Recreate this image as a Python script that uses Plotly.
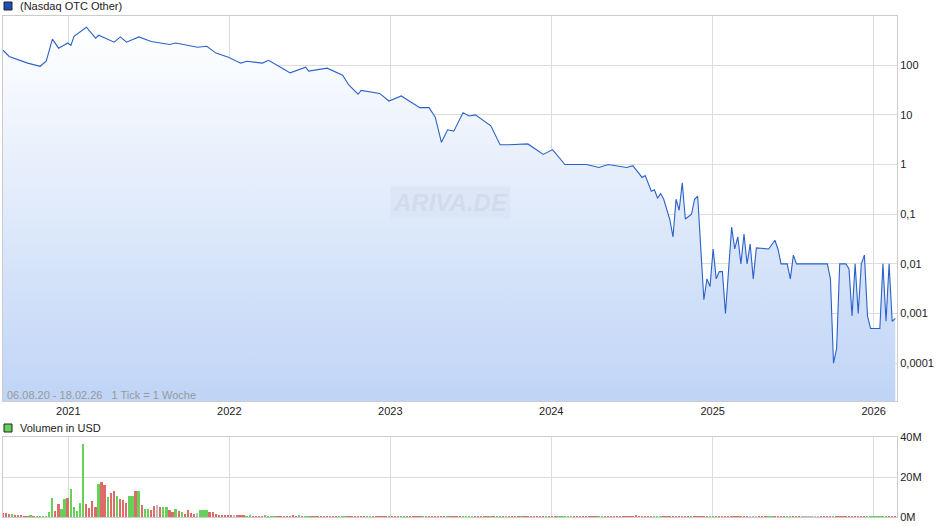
import pandas as pd
import plotly.graph_objects as go
from plotly.subplots import make_subplots

# price, weekly ticks counted from 06.08.2020
start = pd.Timestamp('2020-08-06')
price_week = [0, 2, 8, 12, 14, 16, 18, 21, 22, 23, 27, 30, 31, 36, 38, 40, 44, 48, 54, 56,
              63, 66, 69, 73, 77, 79, 84, 86, 91, 93, 98, 99, 105, 110, 112, 115, 116, 122, 125, 129,
              135, 138, 140, 142, 144, 146, 149, 151, 153, 158, 161, 164, 170, 175, 178, 182, 189, 193, 196, 202,
              204, 207, 208, 210, 211, 212, 213, 214, 216, 217, 218, 219, 220, 221, 223, 224, 225, 227, 228, 229,
              230, 231, 232, 233, 234, 236, 237, 238, 239, 240, 241, 242, 243, 244, 248, 250, 251, 252, 254, 255,
              256, 257, 267, 268, 269, 270, 271, 273, 274, 275, 276, 277, 278, 279, 280, 281, 284, 285, 286, 287,
              288, 289]
price = [200, 150, 110, 95, 120, 335, 220, 280, 250, 380, 580, 350, 400, 290, 370, 290, 370, 300, 260, 280,
         230, 240, 175, 145, 110, 120, 110, 125, 83, 70, 91, 76, 87, 63, 40, 26, 31, 27, 19, 24,
         14, 14, 9, 2.8, 5, 4.7, 11, 9.5, 10, 6, 2.5, 2.5, 2.6, 1.6, 2.0, 1.0, 1.0, 0.87, 1.0, 0.87,
         0.95, 0.55, 0.6, 0.29, 0.31, 0.21, 0.26, 0.2, 0.077, 0.035, 0.2, 0.12, 0.43, 0.08, 0.1, 0.2, 0.23, 0.0019, 0.005, 0.0035,
         0.02, 0.005, 0.007, 0.007, 0.001, 0.055, 0.02, 0.035, 0.01, 0.04, 0.01, 0.025, 0.005, 0.021, 0.02, 0.03, 0.02, 0.01, 0.01, 0.005,
         0.015, 0.01, 0.01, 0.005, 0.0001, 0.0002, 0.01, 0.01, 0.008, 0.0009, 0.01, 0.001, 0.01, 0.015, 0.0009, 0.0005, 0.0005, 0.01, 0.0007, 0.01,
         0.0007, 0.0008]

# volume in million USD, one bar per week from week 0
volume = [2.2, 2.2, 1.7, 1.3, 0.8, 0.8, 0.8, 0.5, 0.3, 0.8,
          0.3, 0.3, 0.3, 0.3, 0.3, 2.3, 9.7, 2.8, 6.3, 3.8,
          8.8, 9.3, 13.8, 4.8, 2.8, 6.8, 36.3, 6.3, 4.3, 7.8,
          4.8, 16.3, 17.3, 15.8, 9.8, 11.8, 12.8, 10.3, 8.8, 8.3,
          6.8, 10.3, 10.3, 12.8, 12.8, 5.8, 3.8, 3.8, 3.3, 5.3,
          5.8, 4.8, 4.8, 4.8, 3.3, 2.3, 3.8, 2.8, 2.3, 1.3,
          3.3, 1.8, 1.3, 1.8, 3.3, 3.3, 3.3, 2.3, 2.3, 1.3,
          0.8, 0.8, 0.8, 0.8, 0.8, 0.8, 0.8, 0.8, 0.8, 0.3,
          0.8, 0.3, 0.2, 0.2, 0.2, 0.8, 0.2, 0.2, 0.2, 0.2,
          0.2, 0.2, 0.2, 0.2, 0.8, 0.2, 0.8, 0.2, 0.2, 0.2,
          0.2, 0.2, 0.2, 0.2, 0.2, 0.2, 0.2, 0.2, 0.2, 0.2,
          0.2, 0.2, 0.2, 0.2, 0.2, 0.2, 0.2, 0.2, 0.2, 0.2,
          0.2, 0.2, 0.2, 0.2, 0.2, 0.2, 0.2, 0.2, 0.2, 0.2,
          0.2, 0.2, 0.2, 0.2, 0.2, 0.2, 0.2, 0.2, 0.2, 0.2,
          0.2, 0.2, 0.2, 0.2, 0.2, 0.2, 0.2, 0.2, 0.2, 0.2,
          0.2, 0.2, 0.2, 0.2, 0.2, 0.2, 0.2, 0.2, 0.2, 0.2,
          0.2, 0.2, 0.2, 0.2, 0.2, 0.2, 0.2, 0.2, 0.2, 0.2,
          0.2, 0.2, 0.2, 0.2, 0.2, 0.2, 0.2, 0.2, 0.2, 0.2,
          0.2, 0.2, 0.2, 0.2, 0.2, 0.2, 0.2, 0.2, 0.2, 0.2,
          0.2, 0.2, 0.2, 0.2, 0.2, 0.2, 0.2, 0.2, 0.2, 0.2,
          0.2, 0.2, 0.2, 0.2, 0.2, 0.8, 0.2, 0.2, 0.2, 0.2,
          0.2, 0.2, 0.2, 0.2, 0.2, 0.2, 0.2, 0.2, 0.2, 0.2,
          0.2, 0.2, 0.2, 0.2, 0.2, 0.2, 0.2, 0.2, 0.2, 0.2,
          0.2, 0.2, 0.2, 0.2, 0.2, 0.2, 0.2, 0.2, 0.2, 0.2,
          0.2, 0.2, 0.2, 0.2, 0.2, 0.2, 0.2, 0.2, 0.2, 0.2,
          0.2, 0.2, 0.2, 0.2, 0.2, 0.2, 0.2, 0.2, 0.2, 0.2,
          0.2, 0.2, 0.2, 0.2, 0.2, 0.2, 0.2, 0.2, 0.2, 0.2,
          0.2, 0.2, 0.2, 0.2, 0.2, 0.2, 0.2, 0.2, 0.2, 0.2,
          0.2, 0.2, 0.2, 0.2, 0.2, 0.2, 0.2, 0.2, 0.2, 0.2]
# g = up week, r = down week, n = unchanged
vol_dir = ("rrrgrrrrrg" "rggggggrrg" "grgggggrrr" "rgrrgrrgrr" "rggrgrggrr"
           "nrggrrgrgr" "rrrngggrrr" "rrrrrnrrrg" "grrrrggggr" "rrrrrrgrgg"
           "rrrrrrrrrg" "ggrrrrrrgg" "rrrrrgrrrg" "grrrrrgrrr" "rrrrgrrrrg"
           "gggrrrrrgr" "ggrgrrrrgr" "rrrrrrgrrr" "gggggrrrrr" "rrrggrrrrr"
           "rrrrrrrrrr" "rgggrrrrrr" "rrrgrrrrrg" "ggrrrrrrrr" "rrnnnrrrgg"
           "rrrrggrrrn" "nnnnnrrrrg" "rrrrrrrrrr" "gggggggrrr")

y_ticks = [0.0001, 0.001, 0.01, 0.1, 1, 10, 100]
y_labels = ['0,0001', '0,001', '0,01', '0,1', '1', '10', '100']
vol_ticks = [0, 20, 40]
vol_labels = ['0M', '20M', '40M']
years = ['2021-01-01', '2022-01-01', '2023-01-01', '2024-01-01', '2025-01-01', '2026-01-01']
year_labels = ['2021', '2022', '2023', '2024', '2025', '2026']

price_dates = [start + pd.Timedelta(weeks=w) for w in price_week]
vol_dates = [start + pd.Timedelta(weeks=w) for w in range(len(volume))]
colmap = {'g': '#66d158', 'r': '#de6a6a', 'n': '#bbbbbb'}
vol_colors = [colmap[c] for c in vol_dir[:len(volume)]]

fig = make_subplots(rows=2, cols=1, shared_xaxes=False)

# baseline for the gradient fill
fig.add_trace(go.Scatter(x=[price_dates[0], price_dates[-1]], y=[1e-5, 1e-5], mode='lines',
                         line=dict(width=0), hoverinfo='skip', showlegend=False), row=1, col=1)
fig.add_trace(go.Scatter(x=price_dates, y=price, mode='lines', line=dict(color='#2a62c8', width=1.1),
                         fill='tonexty',
                         fillgradient=dict(type='vertical', colorscale=[[0, '#bdd3f6'], [1, '#ffffff']]),
                         showlegend=False), row=1, col=1)
fig.add_trace(go.Bar(x=vol_dates, y=volume, marker=dict(color=vol_colors, line=dict(width=0)),
                     width=4.2 * 24 * 3600 * 1000, showlegend=False), row=2, col=1)

xr = ['2020-08-06', '2026-02-23']
ax = dict(range=xr, showgrid=True, gridcolor='#dddddd', tickvals=years, ticktext=year_labels,
          showline=True, linecolor='#cccccc', mirror=True, zeroline=False, ticks='', automargin=False)
fig.update_layout(
    width=940, height=526, margin=dict(l=0, r=0, t=0, b=0),
    paper_bgcolor='white', plot_bgcolor='white',
    font=dict(family='Liberation Sans, Arial', size=11, color='#222222'),
    xaxis=dict(ax, domain=[0.0032, 0.9543], anchor='y'),
    xaxis2=dict(ax, domain=[0.0032, 0.9543], anchor='y2', showticklabels=False),
    yaxis=dict(type='log', range=[-4.76, 2.99], domain=[0.2376, 0.9696], side='right',
               tickvals=y_ticks, ticktext=y_labels, gridcolor='#dddddd', showline=True,
               linecolor='#cccccc', mirror=True, ticks='', anchor='x', automargin=False),
    yaxis2=dict(range=[0, 40], domain=[0.0171, 0.1692], side='right', tickvals=vol_ticks,
                ticktext=vol_labels, gridcolor='#dddddd', showline=True, linecolor='#cccccc',
                mirror=True, ticks='', zeroline=False, anchor='x2', automargin=False),
    bargap=0,
)

# legends
fig.add_shape(type='rect', xref='paper', yref='paper', x0=4/940, x1=12/940, y0=1-10/526, y1=1-2/526,
              fillcolor='#1f4fb5', line=dict(color='#222222', width=1))
fig.add_annotation(text='(Nasdaq OTC Other)', xref='paper', yref='paper', x=18/940, y=1-6/526,
                   showarrow=False, xanchor='left', yanchor='middle')
fig.add_shape(type='rect', xref='paper', yref='paper', x0=4/940, x1=12/940, y0=1-432/526, y1=1-424/526,
              fillcolor='#66d158', line=dict(color='#222222', width=1))
fig.add_annotation(text='Volumen in USD', xref='paper', yref='paper', x=18/940, y=1-428/526,
                   showarrow=False, xanchor='left', yanchor='middle')
fig.add_annotation(text='06.08.20 - 18.02.26   1 Tick = 1 Woche', xref='paper', yref='paper',
                   x=5/940, y=1-395/526, showarrow=False, xanchor='left', yanchor='middle',
                   font=dict(color='#999999', size=11))
fig.add_annotation(text='<b><i>ARIVA.DE</i></b>', xref='paper', yref='paper', x=450/940, y=1-202/526,
                   showarrow=False, font=dict(color='rgba(205,215,230,0.7)', size=24),
                   bgcolor='rgba(215,225,240,0.45)', borderpad=2)

fig.write_html('out.html', config={'displayModeBar': False},
               post_script="document.body.style.margin='0';")
